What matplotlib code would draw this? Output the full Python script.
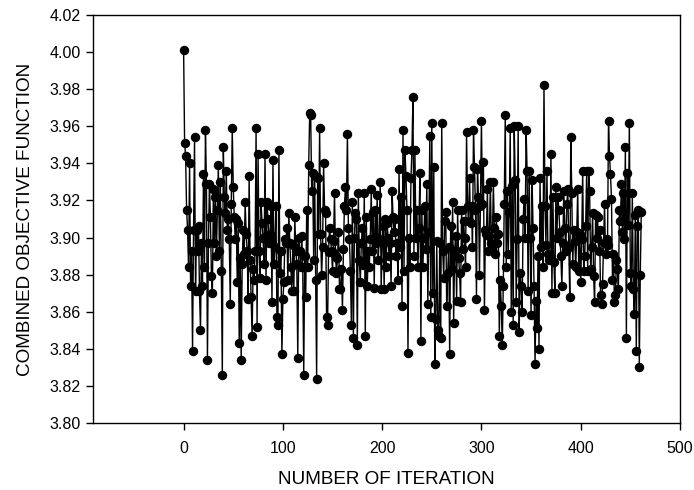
import numpy as np
import matplotlib.pyplot as plt

# --- Combined objective per iteration (in units of 1e-3) ---
obj_0_81 = [
    4001, 3951, 3944, 3915, 3904, 3884, 3940, 3874, 3893, 3839,
    3904, 3954, 3871, 3904, 3893, 3906, 3871, 3850, 3897, 3874,
    3934, 3884, 3958, 3929, 3834, 3897, 3929, 3911, 3879, 3870,
    3926, 3897, 3922, 3890, 3915, 3939, 3893, 3930, 3882, 3826,
    3949, 3922, 3913, 3936, 3904, 3910, 3899, 3864, 3918, 3959,
    3927, 3911, 3899, 3910, 3876, 3908, 3843, 3889, 3834, 3886,
    3904, 3891, 3919, 3902, 3893, 3867, 3933, 3888, 3868, 3847,
    3883, 3877, 3893, 3959, 3852, 3945, 3893, 3878, 3919, 3908,
    3900, 3886,
]
obj_82_181 = [
    3945, 3877, 3919, 3910, 3897, 3902, 3917, 3865, 3942, 3886,
    3895, 3917, 3857, 3853, 3947, 3881, 3893, 3837, 3867, 3876,
    3899, 3897, 3905, 3877, 3913, 3897, 3884, 3871, 3896, 3871,
    3911, 3893, 3886, 3835, 3900, 3893, 3884, 3901, 3884, 3826,
    3890, 3868, 3915, 3884, 3939, 3967, 3966, 3925, 3935, 3888,
    3933, 3877, 3824, 3932, 3902, 3959, 3902, 3880, 3895, 3940,
    3915, 3913, 3857, 3853, 3892, 3905, 3899, 3893, 3882, 3898,
    3924, 3890, 3881, 3889, 3903, 3872, 3872, 3883, 3861, 3894,
    3917, 3927, 3915, 3956, 3905, 3899, 3882, 3853, 3919, 3846,
    3900, 3913, 3910, 3842, 3924, 3888, 3876, 3897, 3905, 3885,
]
obj_182_277 = [
    3924, 3847, 3911, 3874, 3893, 3884, 3899, 3926, 3893, 3914,
    3873, 3915, 3897, 3923, 3888, 3899, 3930, 3872, 3897, 3906,
    3872, 3910, 3884, 3908, 3900, 3890, 3897, 3874, 3925, 3911,
    3903, 3910, 3890, 3897, 3877, 3937, 3895, 3922, 3863, 3958,
    3882, 3947, 3933, 3915, 3838, 3900, 3884, 3932, 3947, 3976,
    3890, 3947, 3900, 3915, 3884, 3905, 3935, 3844, 3915, 3884,
    3900, 3917, 3894, 3929, 3864, 3903, 3955, 3857, 3962, 3870,
    3938, 3832, 3856, 3898, 3850, 3847, 3897, 3846, 3962, 3893,
    3878, 3909, 3914, 3863, 3881, 3895, 3837, 3906, 3883, 3919,
    3854, 3893, 3901, 3866, 3915, 3889,
]
obj_278_373 = [
    3881, 3865, 3915, 3894, 3909, 3900, 3884, 3957, 3917, 3909, 3932,
    3908, 3917, 3895, 3958, 3938, 3915, 3867, 3937, 3922, 3880, 3917,
    3963, 3918, 3941, 3861, 3904, 3902, 3926, 3893, 3901, 3930, 3897,
    3894, 3930, 3905, 3891, 3911, 3897, 3902, 3847, 3877, 3863, 3842,
    3874, 3918, 3966, 3884, 3925, 3891, 3914, 3959, 3860, 3928,
    3853, 3960, 3931, 3865, 3899, 3960, 3849, 3881, 3874, 3860, 3910,
    3921, 3900, 3958, 3936, 3871, 3936, 3900, 3858, 3931, 3905, 3874,
    3832, 3866, 3851, 3890, 3840, 3932, 3895, 3917, 3884, 3982, 3917,
    3896, 3936, 3891, 3888, 3889, 3945, 3870, 3922, 3887,
]
obj_374_461 = [
    3870, 3927, 3900, 3922, 3915, 3903, 3890, 3874, 3897, 3925, 3905,
    3893, 3918, 3926, 3895, 3868, 3954,
    3924, 3886, 3904, 3898, 3884, 3903, 3926, 3882, 3902, 3876, 3899,
    3936, 3882, 3890, 3906, 3936, 3882, 3936, 3925, 3883, 3895,
    3913, 3879, 3865, 3912, 3900, 3911, 3893, 3904, 3869, 3864, 3875,
    3897, 3918, 3891, 3899, 3896, 3963, 3944, 3934, 3921, 3877, 3891,
    3865, 3869, 3888, 3883, 3872, 3915, 3909, 3929, 3903, 3924,
    3899, 3949, 3846, 3935, 3907, 3962, 3881, 3874, 3924, 3872,
    3859, 3912, 3839, 3906, 3915, 3830, 3880, 3914,
]

y_ticks = [3.80, 3.82, 3.84, 3.86, 3.88, 3.90, 3.92, 3.94, 3.96, 3.98, 4.00, 4.02]
x_ticks = [0, 100, 200, 300, 400, 500]

obj = np.array(obj_0_81 + obj_82_181 + obj_182_277 + obj_278_373 + obj_374_461) / 1000.0
iters = np.arange(len(obj))

plt.rcParams['font.family'] = ['Liberation Sans', 'DejaVu Sans']

fig = plt.figure(figsize=(6.94, 4.90), dpi=100)
ax = fig.add_axes([0.1344, 0.1367, 0.8454, 0.8327])

ax.plot(iters, obj, color='black', linewidth=1.0, marker='o',
        markersize=5.8, markerfacecolor='black', markeredgecolor='black')

ax.set_xlim(-91, 500)
ax.set_ylim(3.80, 4.02)
ax.set_xticks(x_ticks)
ax.set_yticks(y_ticks)
ax.set_yticklabels([f'{t:.2f}' for t in y_ticks])

ax.tick_params(axis='both', direction='out', length=5, width=1, labelsize=11.5,
               top=False, right=False)
ax.tick_params(axis='x', pad=8)
ax.tick_params(axis='y', pad=4)
for s in ax.spines.values():
    s.set_linewidth(1.0)

ax.set_xlabel('NUMBER OF ITERATION', fontsize=13.6, labelpad=11)
ax.set_ylabel('COMBINED OBJECTIVE FUNCTION', fontsize=13.6, labelpad=11)

fig.savefig('out.png', dpi=100)
plt.close(fig)
